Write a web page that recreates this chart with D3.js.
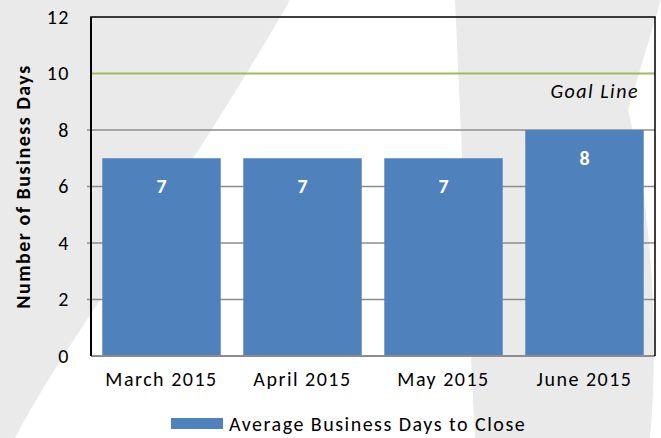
<!DOCTYPE html>
<html>
  <head>
    <meta charset="UTF-8" />
    <script src="https://cdn.jsdelivr.net/npm/d3@7"></script>
    <style>
      body { margin: 0; background: #fff; }
      svg text { font-family: Carlito, Lato, "Open Sans", sans-serif; letter-spacing: 1.5px; }
    </style>
  </head>
  <body>
    <div id="chart"></div>
    <script>
      // data
      var months = ["March 2015", "April 2015", "May 2015", "June 2015"]
      var avgDays = [7, 7, 7, 8]
      var yTicks = [0, 2, 4, 6, 8, 10, 12]
      var goal = 10
      var seriesName = "Average Business Days to Close"

      var width = 661
      var height = 438
      var margin = {top: 17, right: 6, bottom: 82, left: 91}
      var w = width - margin.left - margin.right
      var h = height - margin.top - margin.bottom

      var svg = d3.select("#chart")
        .append("svg")
        .attr("width", width)
        .attr("height", height)

      // faint watermark behind the chart
      svg.append("rect")
        .attr("width", width).attr("height", height)
        .attr("fill", "#eaeaea")
      svg.append("path")
        .attr("d", "M290,0 C250,70 200,150 120,270 C80,330 40,390 15,438 L475,438 C468,300 462,150 455,0 Z")
        .attr("fill", "#ffffff")
      svg.append("path")
        .attr("d", "M661,0 L661,438 L650,438 C660,330 650,200 628,110 C640,70 652,30 661,0 Z")
        .attr("fill", "#ffffff")

      var g = svg.append("g")
        .attr("transform", "translate(" + margin.left + "," + margin.top + ")")

      var x = d3.scaleBand()
        .domain(months)
        .range([0, w])
        .paddingInner(0.16)
        .paddingOuter(0.08)

      var y = d3.scaleLinear()
        .domain([0, 12])
        .range([h, 0])

      // gridlines
      g.append("g")
        .selectAll("line")
        .data(yTicks.filter(function(d) { return d > 0 && d < 12 && d != goal }))
        .enter().append("line")
        .attr("x1", -4).attr("x2", w)
        .attr("y1", function(d) { return y(d) })
        .attr("y2", function(d) { return y(d) })
        .attr("stroke", "#8c8c8c")
        .attr("stroke-width", 1.5)

      // bars
      g.selectAll(".bar")
        .data(avgDays)
        .enter().append("rect")
        .attr("class", "bar")
        .attr("x", function(d, i) { return x(months[i]) })
        .attr("width", x.bandwidth())
        .attr("y", function(d) { return y(d) })
        .attr("height", function(d) { return h - y(d) })
        .attr("fill", "#4f81bd")

      g.selectAll(".val")
        .data(avgDays)
        .enter().append("text")
        .attr("class", "val")
        .attr("x", function(d, i) { return x(months[i]) + x.bandwidth() / 2 })
        .attr("y", function(d) { return y(d) + 28 })
        .attr("dy", "0.35em")
        .attr("text-anchor", "middle")
        .attr("fill", "#fff")
        .attr("font-weight", "bold")
        .attr("font-size", "20px")
        .style("letter-spacing", "0px")
        .text(function(d) { return d })

      // goal line
      g.append("line")
        .attr("x1", 0).attr("x2", w)
        .attr("y1", y(goal)).attr("y2", y(goal))
        .attr("stroke", "#9bbb59")
        .attr("stroke-width", 2)
      g.append("text")
        .attr("x", w - 16)
        .attr("y", y(goal) + 17)
        .attr("dy", "0.35em")
        .attr("text-anchor", "end")
        .attr("font-style", "italic")
        .attr("font-size", "20px")
        .attr("fill", "#000")
        .text("Goal Line")

      // frame
      g.append("line")
        .attr("x1", 0).attr("x2", w).attr("y1", h).attr("y2", h)
        .attr("stroke", "#8c8c8c").attr("stroke-width", 2)
      g.append("path")
        .attr("d", "M0," + h + "V0H" + w + "V" + h)
        .attr("fill", "none")
        .attr("stroke", "#000")
        .attr("stroke-width", 1.5)
      g.append("line")
        .attr("x1", 0).attr("x2", 0).attr("y1", 0).attr("y2", h)
        .attr("stroke", "#000").attr("stroke-width", 2)

      // y axis labels
      var yAxis = g.append("g")
        .call(d3.axisLeft(y).tickValues(yTicks).tickSize(0).tickPadding(21))
      yAxis.select(".domain").remove()
      yAxis.selectAll("text")
        .attr("font-size", "20px")
        .attr("fill", "#000")

      // x axis labels
      var xAxis = g.append("g")
        .attr("transform", "translate(0," + h + ")")
        .call(d3.axisBottom(x).tickSize(0).tickPadding(16))
      xAxis.select(".domain").remove()
      xAxis.selectAll("text")
        .attr("font-size", "20px")
        .attr("fill", "#000")

      svg.append("text")
        .attr("transform", "translate(30," + (margin.top + h / 2) + ") rotate(-90)")
        .attr("text-anchor", "middle")
        .attr("font-weight", "bold")
        .attr("font-size", "20px")
        .attr("fill", "#000")
        .text("Number of Business Days")

      // legend
      var legend = svg.append("g")
        .attr("transform", "translate(171,418)")
      legend.append("rect")
        .attr("width", 52).attr("height", 11)
        .attr("fill", "#4f81bd")
      legend.append("text")
        .attr("x", 58).attr("y", 6)
        .attr("dy", "0.35em")
        .attr("font-size", "20px")
        .attr("fill", "#000")
        .text(seriesName)
    </script>
  </body>
</html>
